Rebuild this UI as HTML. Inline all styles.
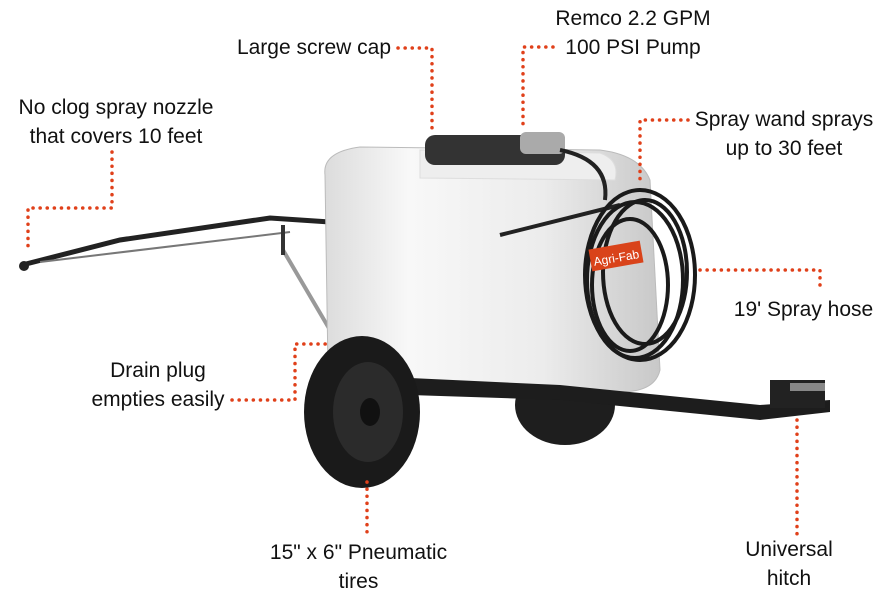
<!DOCTYPE html>
<html><head><meta charset="utf-8"><style>
html,body{margin:0;padding:0;background:#fff;}
body{width:891px;height:603px;position:relative;overflow:hidden;font-family:"Liberation Sans",sans-serif;}
.t{position:absolute;font-size:21px;color:#111;white-space:nowrap;text-align:center;line-height:29px;}
svg{position:absolute;left:0;top:0;}
</style></head><body>
<svg width="891" height="603" viewBox="0 0 891 603">
<defs>
<linearGradient id="tk" x1="0" x2="1" y1="0" y2="0">
<stop offset="0" stop-color="#dcdcdc"/><stop offset="0.25" stop-color="#f8f8f8"/><stop offset="0.65" stop-color="#ececec"/><stop offset="1" stop-color="#c8c8c8"/></linearGradient>
</defs>
<path d="M22 265 L120 240 L270 218 L330 222" stroke="#222" stroke-width="5" fill="none"/>
<path d="M40 262 L290 232" stroke="#777" stroke-width="2" fill="none"/>
<circle cx="24" cy="266" r="5" fill="#222"/>
<path d="M283 250 L330 330" stroke="#999" stroke-width="4"/>
<path d="M283 225 L283 255" stroke="#333" stroke-width="4"/>
<ellipse cx="565" cy="405" rx="50" ry="40" fill="#1e1e1e"/>
<path d="M325 175 Q322 152 360 147 L600 150 Q640 155 650 180 L660 370 Q655 392 620 392 L380 392 Q335 390 328 370 Z" fill="url(#tk)" stroke="#bbb"/>
<path d="M420 150 L600 153 Q620 160 615 180 L420 178 Z" fill="#eee" stroke="#ddd"/>
<rect x="425" y="135" width="140" height="30" rx="10" fill="#333"/>
<rect x="520" y="132" width="45" height="22" rx="6" fill="#aaa"/>
<path d="M560 150 Q610 160 605 200" stroke="#222" stroke-width="4" fill="none"/>
<path d="M500 235 L620 205" stroke="#222" stroke-width="4"/>
<g fill="none" stroke="#1a1a1a" stroke-width="4">
<ellipse cx="640" cy="275" rx="55" ry="85"/>
<ellipse cx="635" cy="280" rx="48" ry="78"/>
<ellipse cx="645" cy="272" rx="42" ry="72"/>
<ellipse cx="630" cy="285" rx="38" ry="66"/>
</g>
<rect x="590" y="245" width="52" height="22" fill="#d9431a" transform="rotate(-10 616 256)"/>
<text x="593" y="262" font-size="12" fill="#fff" font-family="Liberation Sans" transform="rotate(-10 616 256)">Agri-Fab</text>
<path d="M410 378 L560 385 L760 405 L830 400 L830 412 L760 420 L560 400 L410 395 Z" fill="#1d1d1d"/>
<rect x="770" y="380" width="55" height="28" fill="#222"/>
<rect x="790" y="383" width="35" height="8" fill="#888"/>
<ellipse cx="362" cy="412" rx="58" ry="76" fill="#1a1a1a"/>
<ellipse cx="368" cy="412" rx="35" ry="50" fill="#2b2b2b"/>
<ellipse cx="370" cy="412" rx="10" ry="14" fill="#111"/>
<g stroke="#e0401a" stroke-width="3.5" stroke-linecap="round" stroke-dasharray="0.1 7" fill="none">
<path d="M398 48 H432 V132"/>
<path d="M553 47 H523 V130"/>
<path d="M112 152 V208 H28 V250"/>
<path d="M688 120 H640 V185"/>
<path d="M700 270 H820 V292"/>
<path d="M232 400 H295 V344 H330"/>
<path d="M367 482 V535"/>
<path d="M797 420 V535"/>
</g>
</svg>
<div class="t" style="left:538px;top:4px;width:190px">Remco 2.2 GPM<br>100 PSI Pump</div>
<div class="t" style="left:224px;top:33px;width:180px">Large screw cap</div>
<div class="t" style="left:4px;top:93px;width:224px">No clog spray nozzle<br>that covers 10 feet</div>
<div class="t" style="left:682px;top:105px;width:204px">Spray wand sprays<br>up to 30 feet</div>
<div class="t" style="left:723px;top:295px;width:161px">19' Spray hose</div>
<div class="t" style="left:78px;top:356px;width:160px">Drain plug<br>empties easily</div>
<div class="t" style="left:255px;top:538px;width:207px">15" x 6" Pneumatic<br>tires</div>
<div class="t" style="left:729px;top:535px;width:120px">Universal<br>hitch</div>
</body></html>
